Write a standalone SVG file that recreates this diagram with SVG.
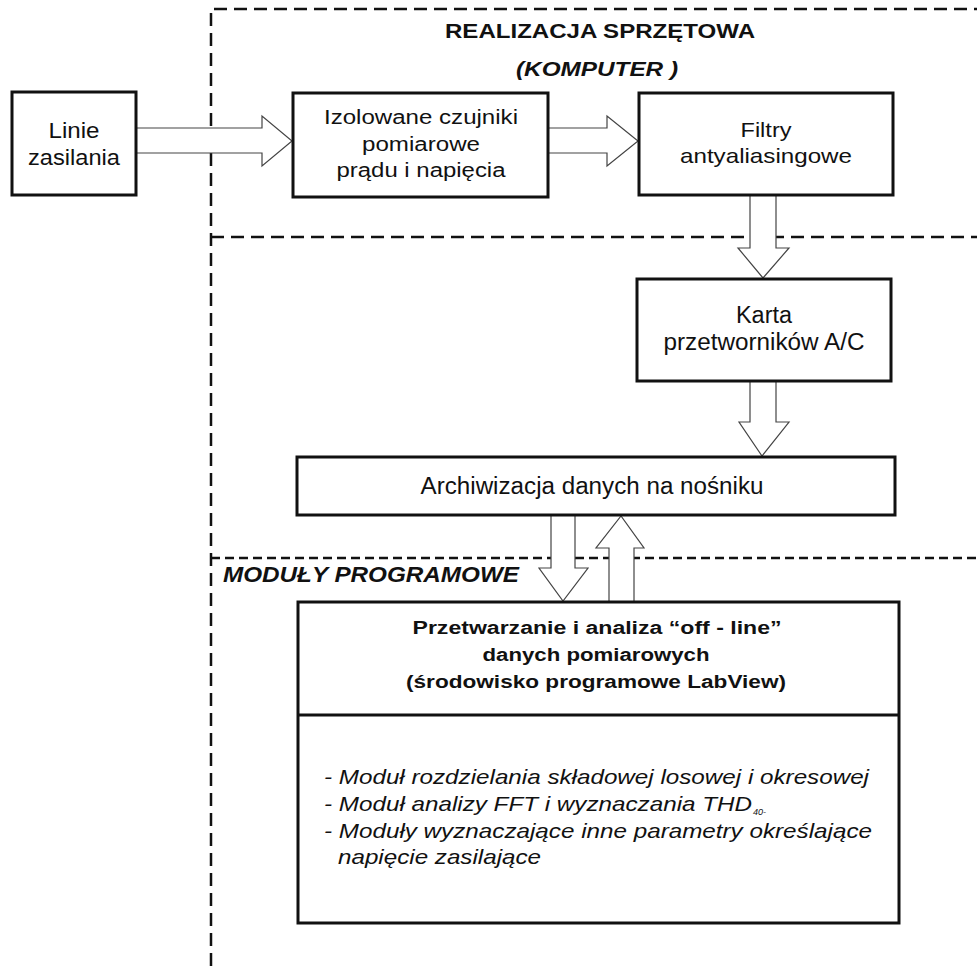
<svg xmlns="http://www.w3.org/2000/svg" width="977" height="966" viewBox="0 0 977 966">
<style>
.box{fill:#fff;stroke:#111;stroke-width:3}
.dash{fill:none;stroke:#111;stroke-width:2.5;stroke-dasharray:13 7}
.arr{fill:#fff;stroke:#444;stroke-width:1.2}
text{font-family:"Liberation Sans",Arial,sans-serif;fill:#111}
.n{font-size:20px;text-anchor:middle}
.it{font-size:21px;font-style:italic}
.hb{font-size:18px;font-weight:bold;text-anchor:middle}
.t{font-size:21px;font-weight:bold}
</style>
<rect width="977" height="966" fill="#fff"/>
<g id="regions">
<path class="dash" d="M211,966 V9 H977"/>
<path class="dash" d="M211,237 H977"/>
<path class="dash" d="M211,558 H977" style="stroke-dasharray:9 5"/>
<text class="t" x="445" y="38" textLength="310" lengthAdjust="spacingAndGlyphs">REALIZACJA SPRZĘTOWA</text>
<text class="t" x="516" y="76" style="font-style:italic" textLength="162" lengthAdjust="spacingAndGlyphs">(KOMPUTER )</text>
<text class="t" x="223" y="582" style="font-style:italic;font-size:22px" textLength="296" lengthAdjust="spacingAndGlyphs">MODUŁY PROGRAMOWE</text>
</g>
<g id="connectors">
<path class="arr" d="M136,128 H262 V116 L292,141 L262,166 V153 H136"/>
<path class="arr" d="M548,128 H607 V116 L638,141 L607,166 V153 H548"/>
<path class="arr" d="M750,195 V248 H738 L763,278 L789,248 H776 V195"/>
<path class="arr" d="M750,381 V422 H739 L762,456 L789,422 H776 V381"/>
<path class="arr" d="M551,515 V568 H539 L563,601 L588,568 H575 V515"/>
<path class="arr" d="M609,601 V548 H596 L621,516 L644,548 H634 V601"/>
</g>
<g id="linie">
<rect class="box" x="12" y="92" width="124" height="103"/>
<text class="n" x="74" y="138" style="font-size:22px" textLength="51" lengthAdjust="spacingAndGlyphs">Linie</text>
<text class="n" x="74" y="165" style="font-size:22px" textLength="92" lengthAdjust="spacingAndGlyphs">zasilania</text>
</g>
<g id="czujniki">
<rect class="box" x="293" y="93" width="255" height="104"/>
<text class="n" x="421" y="124" textLength="194" lengthAdjust="spacingAndGlyphs">Izolowane czujniki</text>
<text class="n" x="421" y="151" textLength="118" lengthAdjust="spacingAndGlyphs">pomiarowe</text>
<text class="n" x="421" y="177" textLength="169" lengthAdjust="spacingAndGlyphs">prądu i napięcia</text>
</g>
<g id="filtry">
<rect class="box" x="639" y="93" width="254" height="102"/>
<text class="n" x="766" y="137" style="font-size:21px" textLength="51" lengthAdjust="spacingAndGlyphs">Filtry</text>
<text class="n" x="766" y="163" style="font-size:21px" textLength="172" lengthAdjust="spacingAndGlyphs">antyaliasingowe</text>
</g>
<g id="karta">
<rect class="box" x="637" y="279" width="254" height="102"/>
<text class="n" x="764" y="323" style="font-size:23px" textLength="56" lengthAdjust="spacingAndGlyphs">Karta</text>
<text class="n" x="764" y="350" style="font-size:23px" textLength="201" lengthAdjust="spacingAndGlyphs">przetworników A/C</text>
</g>
<g id="archiwizacja">
<rect class="box" x="297" y="457" width="598" height="58"/>
<text class="n" x="592" y="494" style="font-size:23px" textLength="343" lengthAdjust="spacingAndGlyphs">Archiwizacja danych na nośniku</text>
</g>
<g id="przetwarzanie">
<rect class="box" x="298" y="602" width="601" height="321"/>
<line x1="298" y1="715" x2="899" y2="715" stroke="#111" stroke-width="3"/>
<text class="hb" x="597" y="634" textLength="369" lengthAdjust="spacingAndGlyphs">Przetwarzanie i analiza  “off - line”</text>
<text class="hb" x="596" y="661" textLength="227" lengthAdjust="spacingAndGlyphs">danych pomiarowych</text>
<text class="hb" x="596" y="688" textLength="380" lengthAdjust="spacingAndGlyphs">(środowisko programowe LabView)</text>
<text class="it" x="324" y="784" textLength="545" lengthAdjust="spacingAndGlyphs">- Moduł rozdzielania składowej losowej i okresowej</text>
<text class="it" x="324" y="811" textLength="428" lengthAdjust="spacingAndGlyphs">- Moduł analizy FFT i wyznaczania THD</text>
<text class="it" x="753" y="815" style="font-size:9px">40-</text>
<text class="it" x="324" y="838" textLength="548" lengthAdjust="spacingAndGlyphs">- Moduły wyznaczające inne parametry określające</text>
<text class="it" x="338" y="864" textLength="203" lengthAdjust="spacingAndGlyphs">napięcie zasilające</text>
</g>
</svg>
